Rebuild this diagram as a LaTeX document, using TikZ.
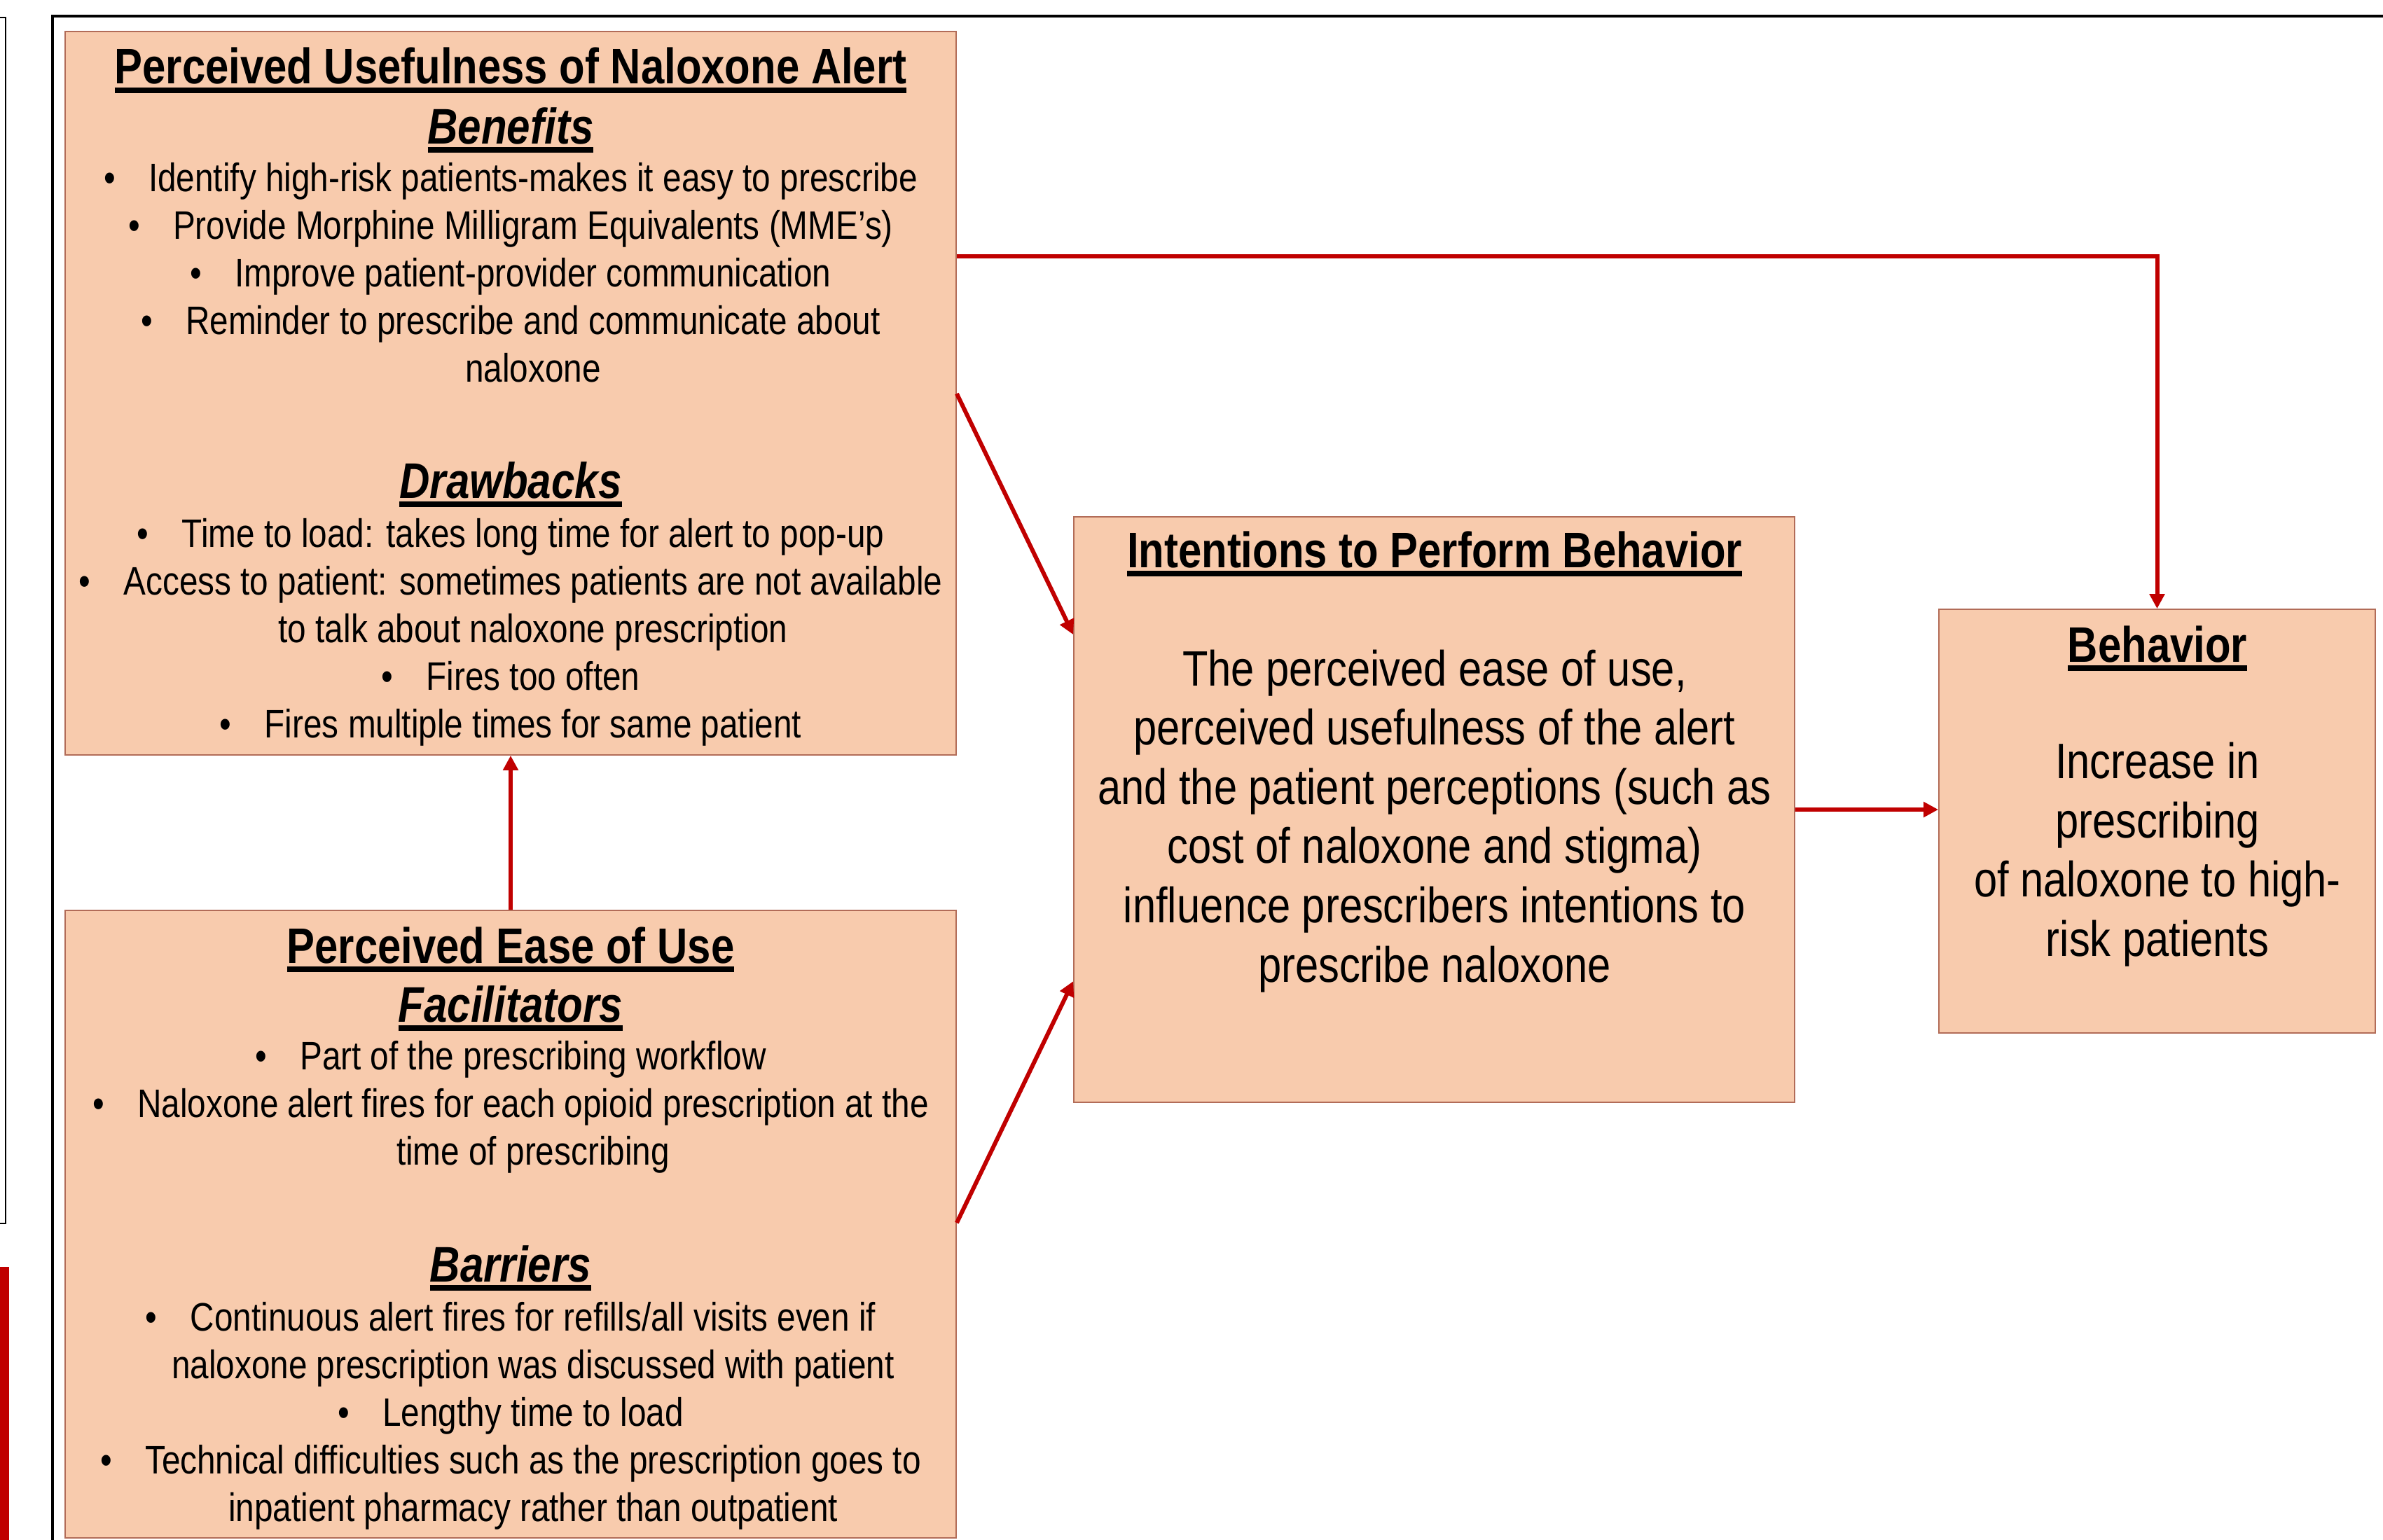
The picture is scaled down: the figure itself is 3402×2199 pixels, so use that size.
\documentclass[tikz,border=0pt]{standalone}
\usepackage{fontspec}
\setmainfont{Liberation Sans}[FakeStretch=0.84]
\usetikzlibrary{arrows.meta,calc,fit}
\definecolor{peach}{RGB}{248,203,173}
\definecolor{boxline}{RGB}{178,108,88}
\definecolor{arrred}{RGB}{192,0,0}
\newcommand\hdul[1]{\setbox0=\hbox{#1}\rlap{\rule[-0.18em]{\wd0}{0.11em}}\box0}
\newlength\bulw \setlength\bulw{12.8pt}
\newcommand\bul{\makebox[\bulw][l]{\textbullet}}
\newcommand\cont{\hspace*{\bulw}}
\begin{document}
\begin{tikzpicture}[x=0.2pt,y=-0.2pt,
  box/.style={draw=boxline, line width=0.35pt, fill=peach, rectangle, inner sep=0pt},
  tb/.style={anchor=base, inner sep=0pt, font=\fontsize{11.36}{13.6}\selectfont},
  tl/.style={anchor=base, inner sep=0pt, font=\fontsize{14.2}{17}\selectfont},
  th/.style={anchor=base, inner sep=0pt, font=\bfseries\fontsize{14.25}{17}\selectfont},
  ts/.style={anchor=base, inner sep=0pt, font=\bfseries\itshape\fontsize{14.3}{17}\selectfont},
  arr/.style={draw=arrred, line width=1.2pt, -{Triangle[length=4.2pt,width=4.2pt]}}]
\useasboundingbox (0,0) rectangle (3402,2199);
% outer decorations
\draw[line width=0.45pt] (-30,25) -- (8,25) -- (8,1747) -- (-30,1747);
\fill[arrred] (0,1809) rectangle (13,2230);
\draw[line width=0.85pt] (3460,23) -- (75,23) -- (75,2250);
% boxes
\node[box, fit={(93,45) (1365,1078)}] (b1) {};
\node[box, fit={(93,1300) (1365,2196)}] (b2) {};
\node[box, fit={(1533,738) (2562,1574)}] (b3) {};
\node[box, fit={(2768,870) (3391,1475)}] (b4) {};
% box 1 text
\node[th] (t11) at (729,120) {\hdul{Perceived Usefulness of Naloxone Alert}};
\node[ts] (t12) at (729,205) {\hdul{Benefits}};
\node[tb] (t13) at (729,273) {\bul Identify high-risk patients-makes it easy to prescribe};
\node[tb] (t14) at (729,341) {\bul Provide Morphine Milligram Equivalents (MME’s)};
\node[tb] (t15) at (729,409) {\bul Improve patient-provider communication};
\node[tb] (t16) at (729,477) {\bul Reminder to prescribe and communicate about};
\node[tb] (t17) at (729,545) {\cont naloxone};
\node[ts] (t18) at (729,711) {\hdul{Drawbacks}};
\node[tb] (t19) at (729,781) {\bul Time to load: takes long time for alert to pop-up};
\node[tb] (t110) at (729,849) {\bul Access to patient: sometimes patients are not available};
\node[tb] (t111) at (729,917) {\cont to talk about naloxone prescription};
\node[tb] (t112) at (729,985) {\bul Fires too often};
\node[tb] (t113) at (729,1053) {\bul Fires multiple times for same patient};
% box 2 text
\node[th] (t21) at (729,1375) {\hdul{Perceived Ease of Use}};
\node[ts] (t22) at (729,1459) {\hdul{Facilitators}};
\node[tb] (t23) at (729,1527) {\bul Part of the prescribing workflow};
\node[tb] (t24) at (729,1595) {\bul Naloxone alert fires for each opioid prescription at the};
\node[tb] (t25) at (729,1663) {\cont time of prescribing};
\node[ts] (t26) at (729,1830) {\hdul{Barriers}};
\node[tb] (t27) at (729,1900) {\bul Continuous alert fires for refills/all visits even if};
\node[tb] (t28) at (729,1968) {\cont naloxone prescription was discussed with patient};
\node[tb] (t29) at (729,2036) {\bul Lengthy time to load};
\node[tb] (t210) at (729,2104) {\bul Technical difficulties such as the prescription goes to};
\node[tb] (t211) at (729,2172) {\cont inpatient pharmacy rather than outpatient};
% box 3 text
\node[th] (t31) at (2048,810) {\hdul{Intentions to Perform Behavior}};
\node[tl] (t32) at (2048,979) {The perceived ease of use,};
\node[tl] (t33) at (2048,1063) {perceived usefulness of the alert};
\node[tl] (t34) at (2048,1148) {and the patient perceptions (such as};
\node[tl] (t35) at (2048,1232) {cost of naloxone and stigma)};
\node[tl] (t36) at (2048,1317) {influence prescribers intentions to};
\node[tl] (t37) at (2048,1402) {prescribe naloxone};
% box 4 text
\node[th] (t41) at (3080,945) {\hdul{Behavior}};
\node[tl] (t42) at (3080,1111) {Increase in};
\node[tl] (t43) at (3080,1196) {prescribing};
\node[tl] (t44) at (3080,1280) {of naloxone to high-};
\node[tl] (t45) at (3080,1365) {risk patients};
% connectors
\draw[arr] ($(b1.north east)+(0,322)$) -| (b4.north);
\draw[arr] ($(b1.north east)+(0,518)$) -- ($(b3.north west)+(0,169)$);
\draw[arr] ($(b2.north east)+(0,447)$) -- ($(b3.north west)+(0,664)$);
\draw[arr] (b2.north) -- (b1.south);
\draw[arr] (b3.east) -- (b3.east -| b4.west);
\end{tikzpicture}
\end{document}
